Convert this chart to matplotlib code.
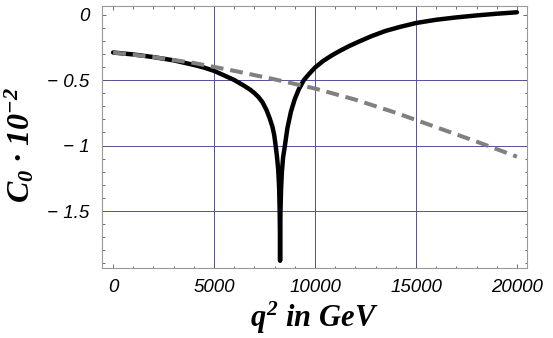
import matplotlib
matplotlib.use("Agg")
import matplotlib.pyplot as plt
from matplotlib.ticker import FixedLocator, MultipleLocator, FuncFormatter

# ---- data ----
q_solid = [0, 1000, 2000, 3000, 4000, 4500, 5000, 5500, 6000, 6500, 6800, 7000,
           7200, 7400, 7600, 7750, 7890, 7980, 8050, 8120, 8180, 8225, 8250,
           8262, 8270, 8278, 8290, 8320, 8360, 8420, 8510, 8630, 8810, 9000,
           9200, 9450, 9700, 10000, 10400, 10800, 11200, 11700, 12200, 12800,
           13500, 14200, 15000, 16000, 17000, 18000, 19000, 20000]
c_solid = [-0.29, -0.305, -0.325, -0.35, -0.385, -0.405, -0.43, -0.465, -0.50,
           -0.545, -0.575, -0.60, -0.63, -0.67, -0.73, -0.79, -0.856, -0.92,
           -1.0, -1.09, -1.19, -1.33, -1.50, -1.65, -1.88, -1.65, -1.50, -1.33,
           -1.20, -1.09, -1.0, -0.87, -0.74, -0.645, -0.57, -0.50, -0.455,
           -0.405, -0.355, -0.315, -0.28, -0.24, -0.205, -0.165, -0.125, -0.095,
           -0.065, -0.04, -0.022, -0.007, 0.006, 0.017]

q_dash = [0, 2000, 4000, 6000, 8000, 10000, 12000, 14000, 16000, 18000, 20000]
c_dash = [-0.29, -0.325, -0.37, -0.43, -0.495, -0.565, -0.65, -0.75, -0.86,
          -0.97, -1.085]

x_major = [0, 5000, 10000, 15000, 20000]
y_major = [0, -0.5, -1, -1.5]
x_grid = [5000, 10000, 15000]
y_grid = [-0.5, -1, -1.5]

# ---- fonts ----
plt.rcParams['mathtext.fontset'] = 'custom'
plt.rcParams['mathtext.rm'] = 'Liberation Serif:italic:bold'
plt.rcParams['mathtext.it'] = 'Liberation Serif:italic:bold'
plt.rcParams['mathtext.bf'] = 'Liberation Serif:italic:bold'

fig = plt.figure(figsize=(5.53, 3.38), dpi=100)
ax = fig.add_axes([102 / 553, 1 - 268 / 338, 425 / 553, 262 / 338])

for g in x_grid:
    ax.axvline(g, color='#5050a0', lw=0.7, zorder=1)
for g in y_grid:
    ax.axhline(g, color='#5050a0', lw=0.7, zorder=1)

ax.plot(q_solid, c_solid, color='black', lw=3.2, solid_joinstyle='round',
        solid_capstyle='round', zorder=3)
ax.plot(q_dash, c_dash, color='#808080', lw=2.9, dashes=(3.2, 1.7),
        dash_capstyle='butt', zorder=4)

ax.set_xlim(-550, 20500)
ax.set_ylim(-1.935, 0.065)

ax.xaxis.set_major_locator(FixedLocator(x_major))
ax.xaxis.set_minor_locator(MultipleLocator(1000))
ax.yaxis.set_major_locator(FixedLocator(y_major))
ax.yaxis.set_minor_locator(MultipleLocator(0.1))


def yfmt(v, pos):
    if abs(v) < 1e-9:
        return '0'
    s = ('%g' % abs(v))
    return ('\u2212 ' + s) if v < 0 else s


ax.yaxis.set_major_formatter(FuncFormatter(yfmt))
ax.xaxis.set_major_formatter(FuncFormatter(lambda v, p: '%d' % v))

for s in ax.spines.values():
    s.set_color('#999999')
    s.set_linewidth(0.8)

ax.tick_params(which='both', direction='in', top=True, right=True,
               color='#555555', width=0.6)
ax.tick_params(which='major', length=3.2)
ax.tick_params(which='minor', length=1.8)
ax.tick_params(axis='x', which='major', pad=8)
ax.tick_params(axis='y', which='major', pad=9)

for lab in ax.get_xticklabels() + ax.get_yticklabels():
    lab.set_fontfamily('Liberation Sans')
    lab.set_fontstyle('italic')
    lab.set_fontsize(13.5)

ax.set_xlabel(r'$q^2$ in GeV', fontfamily='Liberation Serif',
              fontweight='bold', fontstyle='italic', fontsize=22)
ax.xaxis.set_label_coords(0.5, -0.12)
ax.set_ylabel(r'$C_0$ · $10^{-2}$', fontfamily='Liberation Serif',
              fontweight='bold', fontstyle='italic', fontsize=23)
ax.yaxis.set_label_coords(-0.155, 0.47)

fig.savefig('out.png', dpi=100)
